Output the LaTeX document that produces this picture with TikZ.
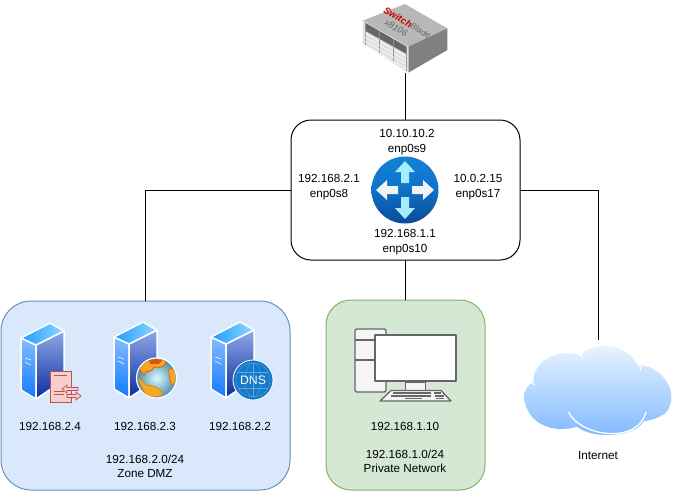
\documentclass[tikz,border=0pt]{standalone}
\usepackage{fontspec}
\setmainfont{Liberation Sans}
\usetikzlibrary{calc, positioning}

\definecolor{zonefill}{HTML}{DAE8FC}
\definecolor{zoneline}{HTML}{6C8EBF}
\definecolor{lanfill}{HTML}{D5E8D4}
\definecolor{lanline}{HTML}{82B366}
\definecolor{certfill}{HTML}{F8CECC}
\definecolor{certline}{HTML}{B85450}
\definecolor{pcline}{HTML}{666666}
\definecolor{land}{HTML}{F5A623}
\definecolor{landdark}{HTML}{D9550F}
\definecolor{srvlefttop}{HTML}{86BBFF}
\definecolor{srvleftbot}{HTML}{0F7BFF}
\definecolor{srvrighttop}{HTML}{8FA9E8}
\definecolor{srvrightbot}{HTML}{0C2A9E}
\definecolor{srvtopa}{HTML}{1E9CFF}
\definecolor{srvtopb}{HTML}{93D8FF}
\definecolor{routertop}{HTML}{1382D8}
\definecolor{routermid}{HTML}{0E72C8}
\definecolor{routerbot}{HTML}{0B4A94}
\definecolor{routerarrow}{HTML}{A5ECFF}
\definecolor{cloudtop}{HTML}{F2F9FF}
\definecolor{cloudbot}{HTML}{7DB7FF}
\definecolor{dnsblue}{HTML}{1578C8}
\definecolor{dnsgrid}{HTML}{5FA8E0}

\tikzset{
  lbl/.style={font=\fontsize{11.7}{14.4}\selectfont, align=center, inner sep=0pt},
  netbox/.style={draw, rounded corners=#1, outer sep=0pt, inner sep=0pt, line width=1pt},
  gatebox/.style={netbox=20pt, minimum width=229, minimum height=140, fill=white},
  face/.style={draw=white, line width=1.5pt, line join=round},
  pcpart/.style={draw=pcline, line width=1.3pt, line join=round},
  pics/server/.style={code={
    \shadedraw[face, top color=srvlefttop, bottom color=srvleftbot] (0,15) -- (15,22) -- (15,76) -- (0,67) -- cycle;
    \shadedraw[face, top color=srvrighttop, bottom color=srvrightbot] (15,22) -- (43,8) -- (43,57) -- (15,76) -- cycle;
    \shadedraw[face, left color=srvtopa, right color=srvtopb] (0,15) -- (29,0) -- (43,8) -- (15,22) -- cycle;
    \draw[white, line width=.6pt] (4,35) -- (10,37) (4,39) -- (10,42);
  }},
  pics/arrowhead/.style={code={
    \fill[#1] (-4,-7) -- (-4,-18) -- (-10,-18) -- (0,-29) -- (10,-18) -- (4,-18) -- (4,-7) -- cycle;
  }}
}

\begin{document}
\begin{tikzpicture}[x=1pt, y=-1pt]
  \useasboundingbox (0,0) rectangle (678,491);

  \node[netbox=30pt, draw=zoneline, fill=zonefill, minimum width=289, minimum height=189] (zone) at (145.5,395.5) {};
  \node[netbox=25pt, draw=lanline, fill=lanfill, minimum width=159, minimum height=190] (lan) at (405.5,395) {};
  \node[gatebox] (gateway) at (405.5,190) {};

  \coordinate (switchbase) at (405.5,73);
  \coordinate (cloudend) at (598,340);
  \draw (switchbase) -- (gateway.north);
  \draw (gateway.west) -| (zone.north);
  \draw (gateway.south) -- (lan.north);
  \draw (gateway.east) -| (cloudend);

  % switch
  \begin{scope}[shift={(340,0)}, scale=1/3]
    \fill[black!28] (68,62) -- (195,12) -- (322,85) -- (205,140) -- cycle;
    \fill[black!50] (205,140) -- (322,85) -- (322,150) -- (205,218) -- cycle;
    \fill[black!12] (68,62) -- (205,140) -- (205,218) -- (68,130) -- cycle;
    \fill[black!60] (75,68) -- (200,140) -- (200,162) -- (75,92) -- cycle;
    \foreach \i in {0,1,2,3} {
      \draw[black!45, line width=.5pt] ($(75,92)!\i/3!(200,162)$) -- ($(75,68)!\i/3!(200,140)$);
      \draw[black!40, line width=.5pt] ($(75,92)!\i/3!(200,162)$) -- ($(75,135)!\i/3!(200,212)$);
      \draw[white, line width=.5pt] (75,\i*12+100) -- (200,\i*12+170);
    }
    \node[rotate=-30, inner sep=0pt, align=center, text=black!60, font=\fontsize{9}{10}\selectfont\itshape] (switchlogo) at (194.5,81) {\textcolor{red!80!black}{\fontsize{9.6}{10}\selectfont\bfseries Switch}{\fontsize{8.5}{10}\selectfont Blade}\\x8106\hspace*{14pt}};
  \end{scope}

  % router
  \node[circle, minimum size=67, inner sep=0pt, top color=routertop, bottom color=routerbot, middle color=routermid] (router) at (405,190) {};
  \pic at (router.center) {arrowhead=routerarrow};
  \pic[yscale=-1] at (router.center) {arrowhead=routerarrow};
  \pic[rotate=90] at (router.center) {arrowhead=black!5};
  \pic[rotate=-90] at (router.center) {arrowhead=black!5};

  \node[lbl] (ifnorth) at (407,142) {10.10.10.2\\enp0s9};
  \node[lbl] (ifwest) at (329,187) {192.168.2.1\\enp0s8};
  \node[lbl] (ifeast) at (478,187) {10.0.2.15\\enp0s17};
  \node[lbl] (ifsouth) at (405,242) {192.168.1.1\\enp0s10};

  % dmz servers
  \pic at (21,323) {server};
  \pic at (114,322) {server};
  \pic at (211,322) {server};

  \node[draw=certline, fill=certfill, line width=.8pt, minimum width=21, minimum height=31, inner sep=0pt] (cert) at (60.5,386.5) {};
  \draw[certline, line width=1.2pt] ($(cert.north west)+(4,5)$) -- ($(cert.north east)+(-4,5)$);
  \draw[certline, line width=.8pt] ($(cert.west)+(4,8)$) -- ++(10,0) ($(cert.west)+(4,5)$) -- ++(10,0);
  \foreach \ya/\xa/\xb/\sx in {389/78/62/5, 396/67/81/-5} {
    \draw[certline, fill=certfill, line width=.7pt] (\xa,\ya-1.5) -- (\xb+\sx,\ya-1.5) -- (\xb+\sx,\ya-4) -- (\xb,\ya) -- (\xb+\sx,\ya+4) -- (\xb+\sx,\ya+1.5) -- (\xa,\ya+1.5) -- cycle;
  }

  \node[circle, minimum size=40, inner sep=0pt, draw=white, line width=1.2pt, inner color=blue!10!cyan!15!white, outer color=blue!30!cyan!50!black!70!white] (globe) at (156.5,378) {};
  \begin{scope}[shift={(globe.center)}]
    \clip (0,0) circle (19);
    \fill[land, draw=landdark, line width=.8pt, rounded corners=2pt] (-19,-12) -- (-12,-18) -- (8,-19) -- (10,-14) -- (3,-10) -- (-2,-12) -- (-6,-6) -- (-11,-7) -- (-12,-2) -- cycle;
    \fill[landdark] (-8,-18) -- (6,-18) -- (2,-14) -- (-6,-14) -- cycle;
    \fill[land, draw=land!80!black, line width=.5pt, rounded corners=2pt] (-19,0) -- (-14,3) -- (-10,8) -- (-4,7) -- (4,12) -- (7,17) -- (-6,20) -- (-12,15) -- cycle;
    \fill[land, draw=landdark, line width=.5pt, rounded corners=2pt] (12,-10) -- (19,-8) -- (20,4) -- (15,7) -- (13,0) -- cycle;
  \end{scope}

  \node[circle, minimum size=40, inner sep=0pt, draw=white, line width=.8pt, fill=dnsblue] (dnsglobe) at (253,380) {};
  \begin{scope}[shift={(dnsglobe.center)}, dnsgrid, line width=.35pt]
    \draw (0,0) circle (17);
    \draw (0,0) ellipse (8 and 17);
    \draw (-15,-8) -- (15,-8) (-15,8) -- (15,8) (0,-17) -- (0,17);
  \end{scope}
  \node[inner sep=0pt, text=white, font=\fontsize{12.3}{13}\selectfont] (dnstext) at (dnsglobe.center) {DNS};

  \node[lbl] (hostcert) at (50,426) {192.168.2.4};
  \node[lbl] (hostweb) at (145,426) {192.168.2.3};
  \node[lbl] (hostdns) at (240,426) {192.168.2.2};
  \node[lbl] (zonetext) at (145,466.5) {192.168.2.0/24\\Zone DMZ};

  % desktop
  \draw[pcpart, fill=black!4, rounded corners=2pt] (355,329) rectangle (386,392);
  \draw[pcpart] (355,340) -- (386,340) (355,360) -- (386,360);
  \node[pcpart, fill=white, minimum width=81, minimum height=46, inner sep=0pt] (monitor) at (415.5,358) {};
  \node[pcpart, fill=black!4, minimum width=20, minimum height=9, inner sep=0pt, below=0pt of monitor] (stand) {};
  \draw[pcpart, fill=black!4] (391,390.5) -- (441,390.5) -- (451,401) -- (380,401) -- cycle;
  \draw[pcline, line width=1.3pt] (393,393) -- (431,393) (434,393) -- (441,393) (391,396) -- (431,396) (435,396) -- (444,396) (405,398.5) -- (422,398.5) (436,398.5) -- (444,398.5);

  \node[lbl] (hostpc) at (405,426) {192.168.1.10};
  \node[lbl] (lantext) at (405,461.5) {192.168.1.0/24\\Private Network};

  % cloud
  \begin{scope}[shift={(510,330)}, scale=1/3]
    \shade[top color=cloudtop, bottom color=cloudbot] (70,155) .. controls (70,95) and (140,50) .. (215,78) .. controls (225,45) and (340,20) .. (385,110) -- (395,105) .. controls (460,115) and (510,190) .. (470,245) .. controls (450,265) and (420,270) .. (400,275) .. controls (375,320) and (250,330) .. (200,290) .. controls (140,310) and (50,290) .. (42,200) .. controls (42,180) and (55,165) .. (70,155) -- cycle;
    \draw[white, line width=1.3pt] (175,245) .. controls (210,320) and (385,345) .. (408,245);
    \draw[white, line width=1pt] (62,155) -- (75,165) (390,122) -- (396,103) (205,72) -- (218,82);
  \end{scope}
  \node[lbl] (cloudtext) at (598,456) {Internet};
\end{tikzpicture}
\end{document}
